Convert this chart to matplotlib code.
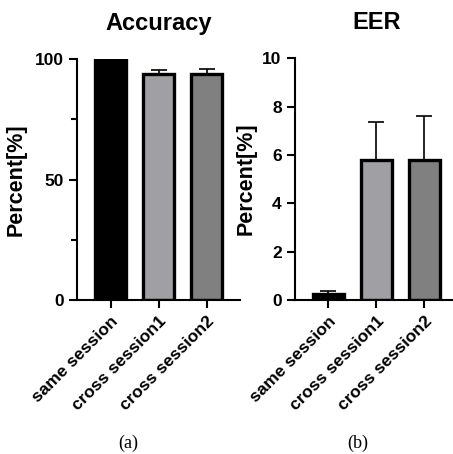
import numpy as np
import matplotlib
matplotlib.use("Agg")
import matplotlib.pyplot as plt
from matplotlib.ticker import MultipleLocator

plt.rcParams['font.family'] = ['Liberation Sans', 'DejaVu Sans']

categories = ['same session', 'cross session1', 'cross session2']
acc_mean = [99.5, 93.8, 93.9]
acc_err = [0.2, 1.8, 2.1]
eer_mean = [0.27, 5.8, 5.78]
eer_err = [0.09, 1.58, 1.82]
colors = ['#000000', '#a0a0a4', '#808080']

fig = plt.figure(figsize=(4.53, 4.54), dpi=100)
ax1 = fig.add_axes([0.170, 0.339, 0.36, 0.531])
ax2 = fig.add_axes([0.651, 0.339, 0.36, 0.533])

x = np.arange(len(categories))


def draw(ax, mean, err, ylim, major, minor, title, labx):
    ax.bar(x, mean, width=0.64, color=colors, edgecolor='black', linewidth=2.4, zorder=2)
    ax.errorbar(x, mean, yerr=[np.zeros(len(err)), err], fmt='none', ecolor='black',
                elinewidth=1.2, capsize=6, capthick=1.2, zorder=1)
    ax.set_xlim(-0.7, 2.7)
    ax.set_ylim(*ylim)
    ax.yaxis.set_major_locator(MultipleLocator(major))
    if minor:
        ax.yaxis.set_minor_locator(MultipleLocator(minor))
    ax.spines['top'].set_visible(False)
    ax.spines['right'].set_visible(False)
    ax.spines['left'].set_linewidth(1.5)
    ax.spines['bottom'].set_linewidth(1.5)
    ax.tick_params(axis='both', which='major', width=1.5, length=6, labelsize=12.5)
    ax.tick_params(axis='y', which='minor', width=1.5, length=4)
    ax.set_xticks(x)
    ax.set_xticklabels(categories, rotation=45, ha='right', rotation_mode='anchor',
                       fontweight='bold', fontsize=12.5)
    for lbl in ax.get_yticklabels():
        lbl.set_fontweight('bold')
    ax.set_ylabel('Percent[%]', fontsize=15.5, fontweight='bold')
    ax.yaxis.set_label_coords(labx, 0.5)
    ax.set_title(title, fontsize=17, fontweight='bold', pad=21)


draw(ax1, acc_mean, acc_err, (0, 100), 50, 25, 'Accuracy', -0.307)
draw(ax2, eer_mean, eer_err, (0, 10), 2, None, 'EER', -0.233)

fig.text(128 / 453, 1 - 443 / 454, '(a)', ha='center', va='center',
         family='Liberation Serif', fontsize=13)
fig.text(358 / 453, 1 - 443 / 454, '(b)', ha='center', va='center',
         family='Liberation Serif', fontsize=13)

fig.savefig('out.png', dpi=100)
